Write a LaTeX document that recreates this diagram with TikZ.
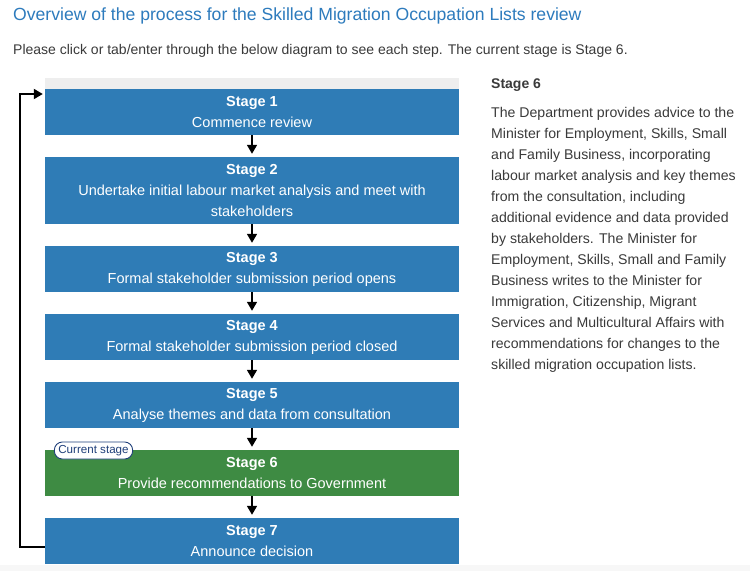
\documentclass[tikz,border=0pt]{standalone}
\usepackage{fontspec}
\setmainfont{Liberation Sans}
\usetikzlibrary{arrows.meta,calc}
\definecolor{titleblue}{HTML}{2D7BBD}
\definecolor{boxblue}{HTML}{2F7CB6}
\definecolor{boxgreen}{HTML}{3E8B43}
\definecolor{bodygray}{HTML}{3A3A3A}
\definecolor{stripgray}{HTML}{EEEEEE}
\definecolor{badgeblue}{HTML}{1F3F7A}
\tikzset{
  stagebox/.style={fill=boxblue, text=white, minimum width=414pt, inner sep=0pt, align=center,
    font=\fontsize{14.5}{21}\selectfont},
  flowarr/.style={draw=black, line width=1.6pt, -{Triangle[width=10pt,length=9pt]}, shorten >=3pt},
  loopline/.style={draw=black, line width=1.8pt, -{Triangle[width=10pt,length=9pt]}},
  badge/.style={draw=badgeblue, fill=white, rounded corners=8pt, line width=0.9pt, text=badgeblue,
    font=\fontsize{11.6}{13}\selectfont, inner xsep=4pt, inner ysep=2pt, minimum height=17pt},
}
\begin{document}
\begin{tikzpicture}[x=1pt,y=-1pt]
\useasboundingbox (0,0) rectangle (750,571);
\fill[white] (0,0) rectangle (750,571);
\fill[black!3] (0,565) rectangle (750,571);
\node[anchor=west, text=titleblue, font=\fontsize{17.6}{20}\selectfont, inner sep=0pt] (title) at (13,16) {Overview of the process for the Skilled Migration Occupation Lists review};
\node[anchor=west, text=bodygray, font=\fontsize{14}{16}\selectfont, inner sep=0pt] (intro) at (13,51) {Please click or tab/enter through the below diagram to see each step. The current stage is Stage 6.};
\fill[stripgray] (45,78) rectangle (459,89);
\node[stagebox, minimum height=46pt] (s1) at (252,112) {\textbf{Stage 1}\\Commence review};
\node[stagebox, minimum height=67pt] (s2) at (252,190.5) {\textbf{Stage 2}\\Undertake initial labour market analysis and meet with\\stakeholders};
\node[stagebox, minimum height=46pt] (s3) at (252,269) {\textbf{Stage 3}\\Formal stakeholder submission period opens};
\node[stagebox, minimum height=46pt] (s4) at (252,337) {\textbf{Stage 4}\\Formal stakeholder submission period closed};
\node[stagebox, minimum height=46pt] (s5) at (252,405) {\textbf{Stage 5}\\Analyse themes and data from consultation};
\node[stagebox, fill=boxgreen, minimum height=46pt] (s6) at (252,473) {\textbf{Stage 6}\\Provide recommendations to Government};
\node[stagebox, minimum height=46pt] (s7) at (252,541) {\textbf{Stage 7}\\Announce decision};
\node[badge] (cur) at (93.5,450.5) {Current stage};
\draw[flowarr] (s1) -- (s2);
\draw[flowarr] (s2) -- (s3);
\draw[flowarr] (s3) -- (s4);
\draw[flowarr] (s4) -- (s5);
\draw[flowarr] (s5) -- (s6);
\draw[flowarr] (s6) -- (s7);
\coordinate (loopstart) at ($(s7.west)+(0,6)$);
\coordinate (loopend) at ($(s1.west)+(-2,-18)$);
\draw[loopline] (loopstart) -- ++(-25,0) |- (loopend);
\node[anchor=west, text=bodygray, font=\bfseries\fontsize{14}{16}\selectfont, inner sep=0pt] (dhead) at (491,85) {Stage 6};
\node[anchor=north west, text=bodygray, align=left, inner sep=0pt, font=\fontsize{14.1}{21}\selectfont] (dtext) at (491,107) {The Department provides advice to the\\Minister for Employment, Skills, Small\\and Family Business, incorporating\\labour market analysis and key themes\\from the consultation, including\\additional evidence and data provided\\by stakeholders. The Minister for\\Employment, Skills, Small and Family\\Business writes to the Minister for\\Immigration, Citizenship, Migrant\\Services and Multicultural Affairs with\\recommendations for changes to the\\skilled migration occupation lists.};
\end{tikzpicture}
\end{document}
